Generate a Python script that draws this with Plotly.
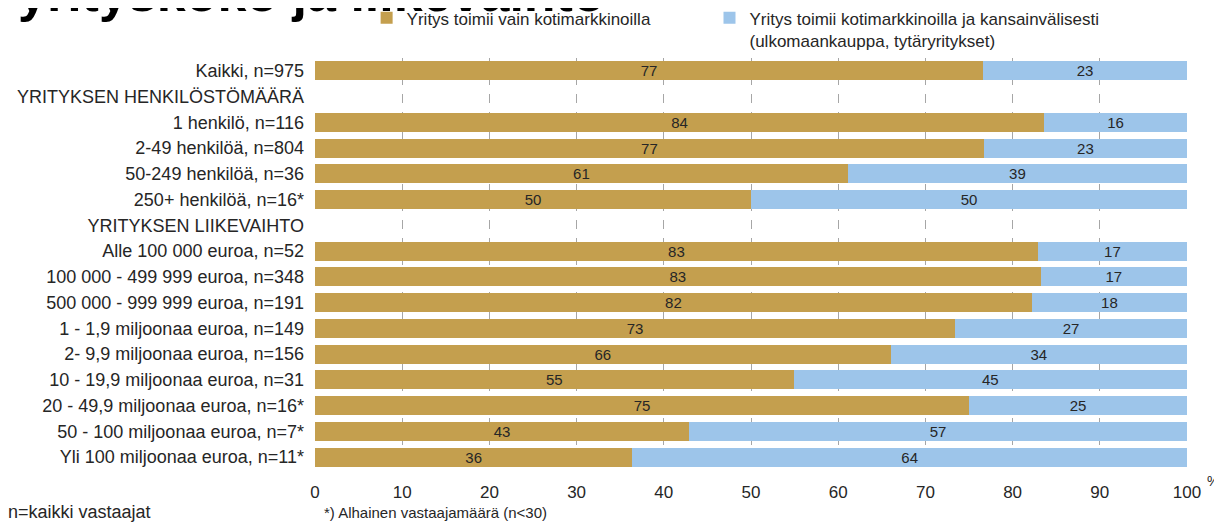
import plotly.graph_objects as go

categories = [
    "Kaikki, n=975",
    "YRITYKSEN HENKILÖSTÖMÄÄRÄ",
    "1 henkilö, n=116",
    "2-49 henkilöä, n=804",
    "50-249 henkilöä, n=36",
    "250+ henkilöä, n=16*",
    "YRITYKSEN LIIKEVAIHTO",
    "Alle 100 000 euroa, n=52",
    "100 000 - 499 999 euroa, n=348",
    "500 000 - 999 999 euroa, n=191",
    "1 - 1,9 miljoonaa euroa, n=149",
    "2- 9,9 miljoonaa euroa, n=156",
    "10 - 19,9 miljoonaa euroa, n=31",
    "20 - 49,9 miljoonaa euroa, n=16*",
    "50 - 100 miljoonaa euroa, n=7*",
    "Yli 100 miljoonaa euroa, n=11*",
]
domestic = [76.6, None, 83.6, 76.7, 61.1, 50.0, None, 82.9, 83.2, 82.2, 73.4, 66.0, 54.9, 75.0, 42.9, 36.4]
international = [23.4, None, 16.4, 23.3, 38.9, 50.0, None, 17.1, 16.8, 17.8, 26.6, 34.0, 45.1, 25.0, 57.1, 63.6]
series_names = [
    "Yritys toimii vain kotimarkkinoilla",
    "Yritys toimii kotimarkkinoilla ja kansainvälisesti<br>(ulkomaankauppa, tytäryritykset)",
]
x_ticks = list(range(0, 101, 10))

GOLD = "#C49F4E"
BLUE = "#9DC5EA"
TXT = "#262626"
FONT = "Liberation Sans, Arial"

fig = go.Figure()
for vals, name, col, lg in [(domestic, series_names[0], GOLD, "legend"),
                            (international, series_names[1], BLUE, "legend2")]:
    fig.add_trace(go.Bar(
        y=categories, x=vals, name=name, orientation="h", legend=lg,
        marker=dict(color=col, line=dict(width=0)),
        texttemplate="%{x:.0f}", textposition="inside", insidetextanchor="middle",
        textangle=0, textfont=dict(family=FONT, size=15, color=TXT),
        hoverinfo="skip",
    ))

legend_common = dict(
    orientation="h", y=1.14, xanchor="left", yanchor="top", valign="top",
    font=dict(family=FONT, size=17, color=TXT), itemwidth=30,
    bgcolor="rgba(0,0,0,0)",
)

fig.update_layout(
    barmode="stack",
    bargap=0.26,
    width=1222, height=527,
    margin=dict(l=307, r=43, t=50, b=65, autoexpand=False),
    paper_bgcolor="white", plot_bgcolor="white",
    font=dict(family=FONT, color=TXT),
    uniformtext=dict(minsize=15, mode="show"),
    showlegend=True,
    legend=dict(x=0.0592, **legend_common),
    legend2=dict(x=0.4524, **legend_common),
    xaxis=dict(
        range=[0, 100], tickvals=x_ticks, ticktext=[str(v) for v in x_ticks],
        showgrid=True, gridcolor="#A6A6A6", griddash="dash", gridwidth=1,
        zeroline=False, showline=False, ticks="",
        tickfont=dict(size=17, color=TXT), ticklabelstandoff=10,
    ),
    yaxis=dict(
        categoryorder="array", categoryarray=categories, autorange="reversed",
        showgrid=False, ticks="", tickfont=dict(size=18, color=TXT),
        showline=False, ticklabelstandoff=10,
    ),
)

fig.add_annotation(
    text="yrityskoko ja liikevaihto", xref="paper", yref="paper",
    x=-0.343, y=1.0833, xanchor="left", yanchor="bottom", showarrow=False,
    font=dict(family=FONT, size=52, color="#000000", weight="bold"),
)
fig.add_annotation(
    text="%", xref="paper", yref="paper", x=1.0206, y=-0.026, xanchor="left", yanchor="middle",
    showarrow=False, font=dict(size=14, color=TXT),
)
fig.add_annotation(
    text="n=kaikki vastaajat", xref="paper", yref="paper", x=-0.354, y=-0.102,
    xanchor="left", yanchor="middle", showarrow=False, font=dict(size=18, color=TXT),
)
fig.add_annotation(
    text="*) Alhainen vastaajamäärä (n<30)", xref="paper", yref="paper", x=0.008, y=-0.104,
    xanchor="left", yanchor="middle", showarrow=False, font=dict(size=15, color=TXT),
)

fig.write_html("out.html")
